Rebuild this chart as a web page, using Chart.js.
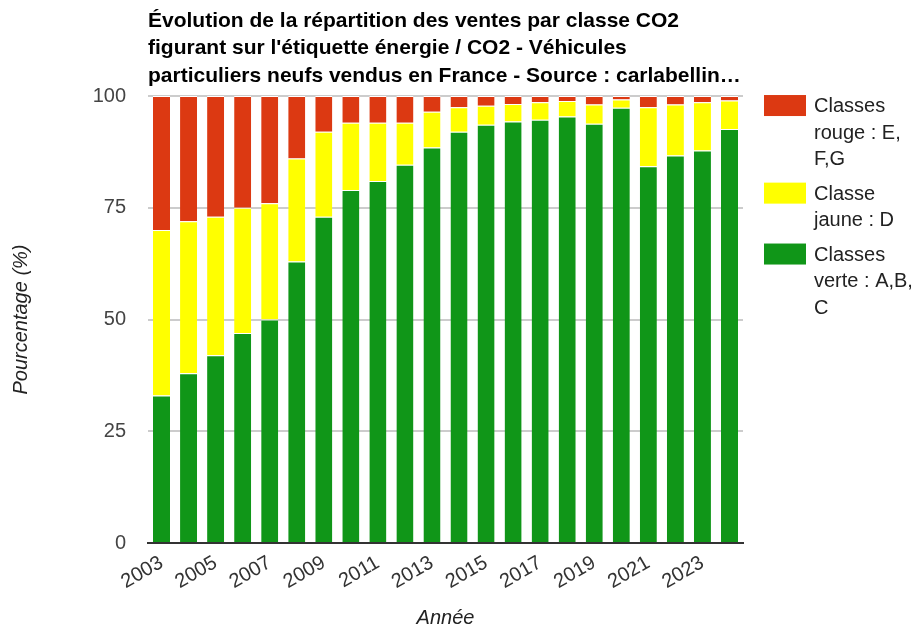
<!DOCTYPE html>
<html>
<head>
<meta charset="utf-8">
<script src="https://cdn.jsdelivr.net/npm/chart.js@4/dist/chart.umd.min.js"></script>
<style>
  body { margin: 0; background: #fff; }
</style>
</head>
<body>
<canvas id="chart" width="917" height="630"></canvas>
<script>
const years = ['2003', '2004', '2005', '2006', '2007', '2008', '2009', '2010', '2011', '2012', '2013',
  '2014', '2015', '2016', '2017', '2018', '2019', '2020', '2021', '2022', '2023', '2024'];

// parts in % for each year
const greenShare = [33, 38, 42, 47, 50, 63, 73, 79, 81, 84.6, 88.5, 92, 93.6, 94.3, 94.7, 95.4, 93.8, 97.4, 84.3, 86.7, 87.8, 92.6];
const yellowShare = [37, 34, 31, 28, 26, 23, 19, 15, 13, 9.4, 8, 5.5, 4.2, 3.9, 3.9, 3.5, 4.3, 1.8, 13.2, 11.4, 10.8, 6.4];
const redShare = [30, 28, 27, 25, 24, 14, 8, 6, 6, 6, 3.5, 2.5, 2.2, 1.8, 1.4, 1.1, 1.9, 0.8, 2.5, 1.9, 1.4, 1.0];

const yTicks = [0, 25, 50, 75, 100];

const titleLines = [
  'Évolution de la répartition des ventes par classe CO2',
  "figurant sur l'étiquette énergie / CO2 - Véhicules",
  'particuliers neufs vendus en France - Source : carlabellin…'
];

// legend text, top to bottom (red, yellow, green)
const legendLines = [
  ['Classes', 'rouge : E,', 'F,G'],
  ['Classe', 'jaune : D'],
  ['Classes', 'verte : A,B,', 'C']
];

const RED = '#dc3912';
const YELLOW = '#ffff00';
const GREEN = '#109618';

const FONT = '"Liberation Sans", Arial, sans-serif';

// legend on the right, drawn by hand so the spacing can match
const sideLegend = {
  id: 'sideLegend',
  afterDraw(chart) {
    const ctx = chart.ctx;
    const area = chart.chartArea;
    const sets = chart.data.datasets.slice().reverse();
    const x = area.right + 21;
    const lineH = 26.7;
    let y = area.top - 1;
    ctx.save();
    ctx.font = '20px ' + FONT;
    ctx.textBaseline = 'middle';
    ctx.textAlign = 'left';
    sets.forEach((ds, i) => {
      ctx.fillStyle = ds.backgroundColor;
      ctx.fillRect(x, y, 42, 21);
      ctx.fillStyle = '#222';
      legendLines[i].forEach((t, j) => {
        ctx.fillText(t, x + 50, y + 11.5 + j * lineH);
      });
      y += legendLines[i].length * lineH + 7.5;
    });
    ctx.restore();
  }
};

const ctx = document.getElementById('chart').getContext('2d');

new Chart(ctx, {
  type: 'bar',
  data: {
    labels: years,
    datasets: [
      { label: 'Classes verte : A,B,C', data: greenShare, backgroundColor: GREEN },
      { label: 'Classe jaune : D', data: yellowShare, backgroundColor: YELLOW },
      { label: 'Classes rouge : E,F,G', data: redShare, backgroundColor: RED }
    ]
  },
  options: {
    responsive: false,
    animation: false,
    layout: {
      padding: { left: 0, right: 174, top: 0, bottom: 0 }
    },
    datasets: {
      bar: {
        categoryPercentage: 1,
        barPercentage: 0.63,
        borderColor: '#fff',
        borderWidth: { top: 1, left: 0, right: 0, bottom: 0 },
        borderSkipped: false
      }
    },
    plugins: {
      legend: { display: false },
      tooltip: { enabled: false },
      title: {
        display: true,
        fullSize: false,
        align: 'start',
        text: titleLines,
        color: '#000',
        font: { family: FONT, size: 21, weight: 'bold', lineHeight: 1.31 },
        padding: { top: 7, bottom: 6.5 }
      }
    },
    scales: {
      x: {
        stacked: true,
        grid: { display: false, drawTicks: false },
        border: { display: true, color: '#333', width: 2 },
        ticks: {
          autoSkip: false,
          minRotation: 30,
          maxRotation: 30,
          padding: 8,
          color: '#333',
          font: { family: FONT, size: 20 },
          callback: function(value, index) {
            return index % 2 === 0 ? this.getLabelForValue(value) : '';
          }
        },
        title: {
          display: true,
          text: 'Année',
          color: '#222',
          font: { family: FONT, size: 20, style: 'italic' },
          padding: { top: 0, bottom: 0 }
        },
        afterFit(scale) { scale.height = 87; }
      },
      y: {
        stacked: true,
        min: 0,
        max: 100,
        afterBuildTicks(scale) {
          scale.ticks = yTicks.map(v => ({ value: v }));
        },
        grid: { color: '#cccccc', lineWidth: 2, drawTicks: false },
        border: { display: false },
        ticks: {
          padding: 22,
          color: '#444',
          font: { family: FONT, size: 20 }
        },
        title: {
          display: true,
          text: 'Pourcentage (%)',
          color: '#222',
          font: { family: FONT, size: 20, style: 'italic' },
          padding: { top: 9, bottom: 0 }
        },
        afterFit(scale) { scale.width = 148; }
      }
    }
  },
  plugins: [sideLegend]
});
</script>
</body>
</html>
